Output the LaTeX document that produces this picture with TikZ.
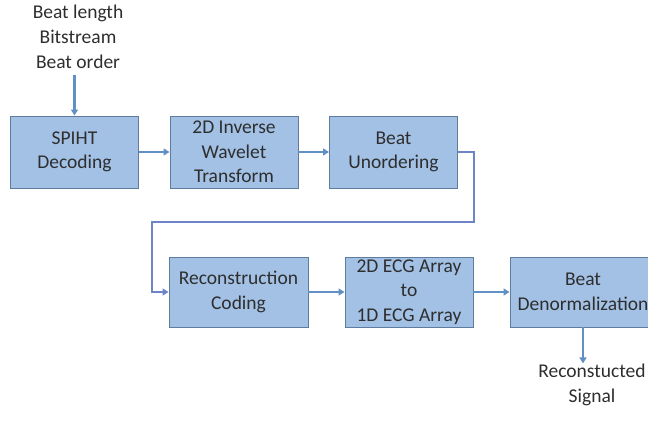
\documentclass[tikz,border=0pt]{standalone}
\usepackage{fontspec}
\setmainfont{Carlito}
\usetikzlibrary{arrows.meta}
\definecolor{boxfill}{HTML}{A2C1E5}
\definecolor{boxdraw}{HTML}{5E7C9E}
\definecolor{arrowc}{HTML}{6390C4}
\definecolor{elbowc}{HTML}{6D84C9}
\definecolor{txt}{HTML}{2E2E2E}
\begin{document}
\begin{tikzpicture}[x=1pt,y=1pt,
  blk/.style={draw=boxdraw, line width=0.9pt, fill=boxfill, minimum width=#1, minimum height=72pt, align=center, inner sep=0pt, font=\fontsize{19.5}{24.5}\selectfont, text=txt},
  blk/.default=128pt,
  lbl/.style={align=center, font=\fontsize{19.5}{25}\selectfont, text=txt, inner sep=0pt},
  arr/.style={draw=arrowc, line width=2.2pt, -{Triangle[length=6pt,width=7pt]}}]
\useasboundingbox (0,0) rectangle (648,423);
\clip (0,0) rectangle (648,423);
\node[lbl] (in) at (78,386) {Beat length\\Bitstream\\Beat order};
\node[blk] (spiht) at (74.5,271) {SPIHT\\Decoding};
\node[blk] (iwt) at (234,271) {2D Inverse\\Wavelet\\Transform};
\node[blk] (unord) at (393.5,271) {Beat\\Unordering};
\node[blk=139pt, minimum height=70pt] (rec) at (238.5,131) {Reconstruction\\Coding};
\node[blk, minimum height=70pt] (ecg) at (409,131) {2D ECG Array\\to\\1D ECG Array};
\node[blk=146pt, minimum height=70pt] (den) at (583,131) {Beat\\Denormalization};
\node[lbl] (out) at (592,38) {Reconstucted\\Signal};
\coordinate (c1) at (474,201);
\coordinate (c2) at (152,201);
\draw[arr] (in.south -| spiht.north) ++(0,-6) -- (spiht.north);
\draw[arr] (spiht) -- (iwt);
\draw[arr] (iwt) -- (unord);
\draw[arr, draw=elbowc, line width=1.8pt] (unord.east) -| (c1) -- (c2) |- (rec.west);
\draw[arr] (rec) -- (ecg);
\draw[arr] (ecg) -- (den);
\draw[arr] (den.south) -- ++(0,-36);
\end{tikzpicture}
\end{document}
